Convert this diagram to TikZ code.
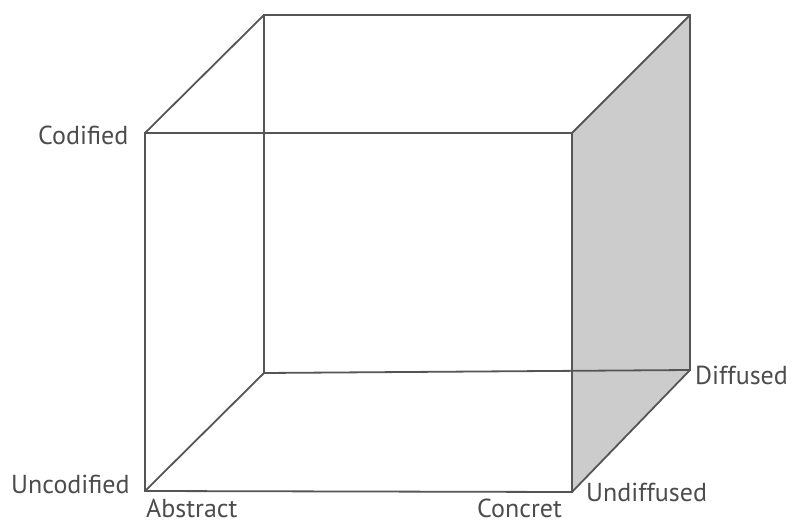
\documentclass[tikz,border=0pt]{standalone}
\usepackage{fontspec}
\setmainfont{PT Sans}
\usepackage{xcolor}
\usepackage{tikz}
\usetikzlibrary{positioning}
\definecolor{edge}{HTML}{555555}
\definecolor{side}{HTML}{CCCCCC}

\begin{document}
\begin{tikzpicture}[
  x=1pt, y=-1pt,
  cubeline/.style={draw=edge, line width=1.8pt, line join=miter},
  lbl/.style={font=\fontsize{26}{30}\selectfont, text=edge!90!black, inner sep=0pt, anchor=base west}]
\useasboundingbox (0,0) rectangle (792,524);
% corners of the cube
\coordinate (ftl) at (145,133);
\coordinate (ftr) at (572,133);
\coordinate (fbl) at (145,491);
\coordinate (fbr) at (572,492);
\coordinate (btl) at (264,15);
\coordinate (btr) at (690,15);
\coordinate (bbl) at (264,373);
\coordinate (bbr) at (690,370);
% shaded side
\fill[side] (ftr) -- (btr) -- (bbr) -- (fbr) -- cycle;
% back edges
\draw[cubeline] (btl) -- (btr) -- (bbr) -- (bbl) -- cycle;
% depth edges
\draw[cubeline] (ftl) -- (btl);
\draw[cubeline] (ftr) -- (btr);
\draw[cubeline] (fbl) -- (bbl);
\draw[cubeline] (fbr) -- (bbr);
% front face
\draw[cubeline] (ftl) -- (ftr) -- (fbr) -- (fbl) -- cycle;
% labels
\node[lbl] (codified) at (38,145) {Codified};
\node[lbl] (uncodified) at (11,493) {Uncodified};
\node[lbl] (abstract) at (146,517) {Abstract};
\node[lbl] (concret) at (477,517) {Concret};
\node[lbl] (undiffused) at (586,501) {Undiffused};
\node[lbl] (diffused) at (695,384) {Diffused};
\end{tikzpicture}
\end{document}
